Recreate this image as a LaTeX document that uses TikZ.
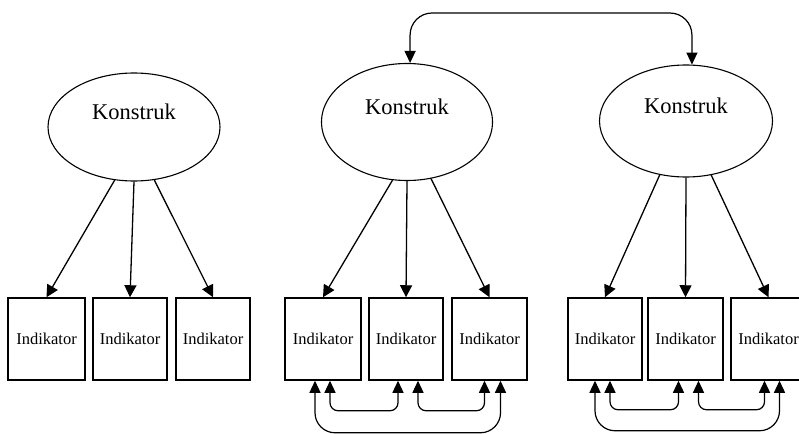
\documentclass[tikz,border=0pt]{standalone}
\usepackage{fontspec}
\setmainfont{Liberation Serif}
\usetikzlibrary{shapes.geometric,arrows.meta}
\begin{document}
\begin{tikzpicture}[x=1pt,y=-1pt,
  konstruk/.style={ellipse, draw, line width=1.1pt, inner sep=0pt,
    label={[font=\fontsize{22.5}{24}\selectfont, yshift=15pt]center:Konstruk}},
  indikator/.style={rectangle, draw, line width=1.5pt, inner sep=0pt,
    minimum height=82pt, font=\fontsize{16.5}{18}\selectfont},
  arr/.style={line width=1.3pt, -{Triangle[length=12pt,width=12pt]}},
  both/.style={line width=1.2pt,
    {Triangle[length=12pt,width=11pt]}-{Triangle[length=12pt,width=11pt]}},
]
\useasboundingbox (0,0) rectangle (799,433);

% first model
\node[konstruk, minimum width=172pt, minimum height=108pt] (k1) at (134,127) {};
\node[indikator, minimum width=77pt] (a1) at (46.5,339) {Indikator};
\node[indikator, minimum width=74pt] (a2) at (130,339) {Indikator};
\node[indikator, minimum width=74pt] (a3) at (213,339) {Indikator};
\draw[arr] (k1.250) -- (a1.north);
\draw[arr] (k1.south) -- (a2.north);
\draw[arr] (k1.291) -- (a3.north);

% second model
\node[konstruk, minimum width=171pt, minimum height=117pt] (k2) at (407,122) {};
\node[indikator, minimum width=76pt] (b1) at (323,339) {Indikator};
\node[indikator, minimum width=74pt] (b2) at (406,339) {Indikator};
\node[indikator, minimum width=75pt] (b3) at (489.5,339) {Indikator};
\draw[arr] (k2.256) -- (b1.north);
\draw[arr] (k2.south) -- (b2.north);
\draw[arr] (k2.293) -- (b3.north);

% third model
\node[konstruk, minimum width=173pt, minimum height=112pt] (k3) at (686,121) {};
\node[indikator, minimum width=74pt] (c1) at (605,339) {Indikator};
\node[indikator, minimum width=75pt] (c2) at (685.5,339) {Indikator};
\node[indikator, minimum width=75pt] (c3) at (768.5,339) {Indikator};
\draw[arr] (k3.244) -- (c1.north);
\draw[arr] (k3.south) -- (c2.north);
\draw[arr] (k3.295) -- (c3.north);

% correlation between the two constructs
\coordinate (top) at (0,13);
\draw[both, rounded corners=22pt] (k2.87) -- (k2.87 |- top) -- (k3.84 |- top) -- (k3.84);

% error covariances, second model
\draw[both, rounded corners=8pt] ([xshift=7pt]b1.south) -- ++(0,30) -| ([xshift=-8pt]b2.south);
\draw[both, rounded corners=8pt] ([xshift=12pt]b2.south) -- ++(0,30) -| ([xshift=-5pt]b3.south);
\draw[both, rounded corners=20pt] ([xshift=-8pt]b1.south) -- ++(0,52) -| ([xshift=11pt]b3.south);

% error covariances, third model
\draw[both, rounded corners=8pt] ([xshift=5pt]c1.south) -- ++(0,29) -| ([xshift=-7pt]c2.south);
\draw[both, rounded corners=8pt] ([xshift=13pt]c2.south) -- ++(0,29) -| ([xshift=-4pt]c3.south);
\draw[both, rounded corners=20pt] ([xshift=-10pt]c1.south) -- ++(0,50) -| ([xshift=11pt]c3.south);
\end{tikzpicture}
\end{document}
